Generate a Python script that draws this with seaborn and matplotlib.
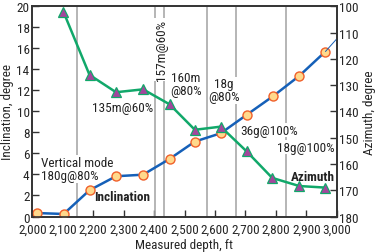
import matplotlib
matplotlib.use("Agg")
import matplotlib.pyplot as plt
import seaborn as sns
import pandas as pd
from matplotlib.ticker import FuncFormatter

sns.set_style("white")
plt.rcParams['font.family'] = ['Liberation Sans Narrow', 'Roboto Condensed', 'Archivo Narrow',
                               'PT Sans Narrow', 'Liberation Sans', 'DejaVu Sans']

# Inclination (left axis)
inc_depth = [2014, 2103, 2188, 2275, 2364, 2451, 2534, 2619, 2704, 2791, 2877, 2963]
inc_value = [0.33, 0.24, 2.5, 3.83, 3.98, 5.48, 7.13, 7.92, 9.67, 11.45, 13.38, 15.7]
inc_ext_depth = [2963, 3000]
inc_ext_value = [15.7, 16.9]

# Azimuth (right axis, inverted)
az_depth = [2102, 2188, 2275, 2364, 2451, 2534, 2619, 2704, 2788, 2877, 2963]
az_value = [102.0, 126.1, 132.7, 131.6, 137.3, 147.0, 145.8, 155.2, 165.3, 168.4, 169.0]

# Mode change depths (vertical lines)
mode_depths = [2147, 2402, 2432, 2575, 2669, 2833]

x_ticks = list(range(2000, 3001, 100))
inc_ticks = list(range(0, 21, 2))
az_ticks = list(range(100, 181, 10))

inc_df = pd.DataFrame({"depth": inc_depth, "inc": inc_value})
az_df = pd.DataFrame({"depth": az_depth, "az": az_value})

fig = plt.figure(figsize=(3.75, 2.53), dpi=100)
ax = fig.add_axes([0.0861, 0.1403, 0.8118, 0.8308])
ax2 = ax.twinx()

for d in mode_depths:
    ax.axvline(d, color="#a9a9a9", lw=1.2, zorder=1)

blue = "#1560b8"
green = "#11a86a"
sns.lineplot(data=inc_df, x="depth", y="inc", ax=ax, color=blue, lw=1.8,
             marker="o", markersize=6.5, markerfacecolor="#ffd98c",
             markeredgecolor="#f0602a", markeredgewidth=1.0, zorder=4)
ax.plot(inc_ext_depth, inc_ext_value, color=blue, lw=0.7, zorder=4)

sns.lineplot(data=az_df, x="depth", y="az", ax=ax2, color=green, lw=1.8,
             marker="^", markersize=6.5, markerfacecolor="#a3479c",
             markeredgecolor=green, markeredgewidth=0.9, zorder=4)

ax.set_xlim(2000, 3000)
ax.set_ylim(0, 20)
ax2.set_ylim(180, 100)
ax.set_xticks(x_ticks)
ax.set_yticks(inc_ticks)
ax2.set_yticks(az_ticks)
ax.xaxis.set_major_formatter(FuncFormatter(lambda v, p: f"{int(v):,}"))

fs = 9.5
ax.tick_params(axis="y", direction="in", length=5, width=1, color="#333333",
               labelsize=fs, pad=2, left=True)
ax.tick_params(axis="x", direction="in", length=5, width=1, color="#333333",
               labelsize=fs, pad=4.5, bottom=True)
ax2.tick_params(axis="y", direction="in", length=5, width=1, color="#333333",
                labelsize=fs, pad=2, right=True)
ax.set_xlabel("Measured depth, ft", fontsize=fs, labelpad=1.5)
ax.set_ylabel("Inclination, degree", fontsize=fs, labelpad=2)
ax2.set_ylabel("Azimuth, degree", fontsize=fs, labelpad=3)

for a in (ax, ax2):
    for s in a.spines.values():
        s.set_color("#333333")
        s.set_linewidth(1.2)
        s.set_visible(True)

bbox = dict(facecolor="white", edgecolor="none", pad=0.5)
tkw = dict(fontsize=fs, color="#222222", zorder=2, bbox=bbox)
ax.text(2298, 10.4, "135m@60%", ha="center", va="center", **tkw)
ax.text(2423, 15.9, "157m@60%", ha="center", va="center", rotation=90, **tkw)
ax.text(2505, 12.6, "160m\n@80%", ha="center", va="center", linespacing=1.0, **tkw)
ax.text(2630, 12.0, "18g\n@80%", ha="center", va="center", linespacing=1.0, **tkw)
ax.text(2778, 8.2, "36g@100%", ha="center", va="center", **tkw)
ax.text(2900, 6.6, "18g@100%", ha="center", va="center", **tkw)
ax.text(2028, 4.5, "Vertical mode\n180g@80%", ha="left", va="center", linespacing=1.05, **tkw)
ax.text(2294, 1.95, "Inclination", ha="center", va="center", fontsize=fs,
        fontweight="bold", color="#222222", zorder=5)
ax.text(2921, 3.85, "Azimuth", ha="center", va="center", fontsize=fs,
        fontweight="bold", color="#222222", zorder=5)

fig.savefig("out.png", dpi=100)
